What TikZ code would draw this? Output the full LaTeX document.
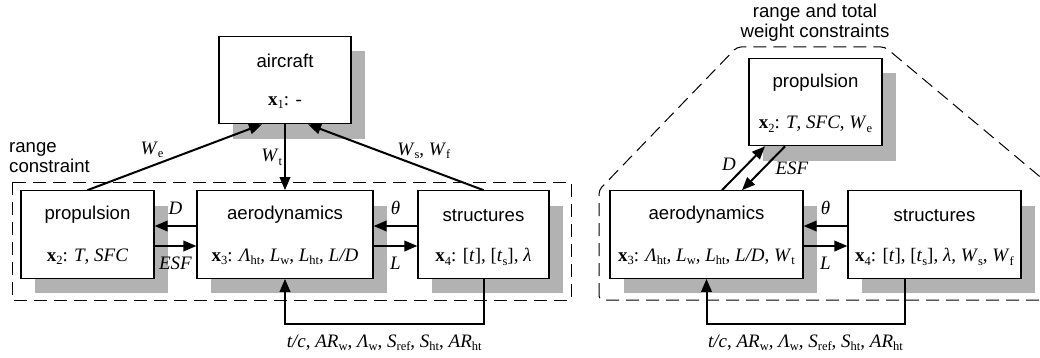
\documentclass[tikz,border=0pt]{standalone}
\usepackage{fontspec}
\setmainfont{Liberation Sans}
\newfontfamily\tms{Liberation Serif}
\usetikzlibrary{arrows.meta,shadows,calc,positioning}

\newcommand{\sub}[1]{\raisebox{-3.5pt}{\fontsize{12.5}{13}\selectfont\upshape #1}}
\newcommand{\xv}[1]{\textbf{x}\sub{#1}}
\newcommand{\vr}[2]{\textit{#1}\sub{#2}}
\newcommand{\module}[5]{\node[modbox, minimum width=#3] (#1) at (#2) {};
\node[modname] (#1-name) at ($(#1.north)+(0,25)$) {#4};
\node[modvars] (#1-vars) at ($(#1.south)+(0,-22)$) {#5};}

\tikzset{
  modbox/.style={draw, line width=1.2pt, fill=white, minimum height=87.5pt, inner sep=0pt,
    drop shadow={shadow xshift=14pt, shadow yshift=-15pt, fill=black!30, opacity=1}},
  modname/.style={inner sep=0pt, font=\fontsize{18.6}{21}\selectfont},
  modvars/.style={inner sep=0pt, font=\fontsize{19}{22}\selectfont\tms},
  lbl/.style={inner sep=2pt, font=\fontsize{19}{22}\selectfont\tms},
  note/.style={inner sep=0pt, font=\fontsize{18.6}{20.5}\selectfont},
  flow/.style={line width=2pt, -{Triangle[length=13pt,width=10.5pt]}},
  frame/.style={line width=1pt, dash pattern=on 13pt off 7pt}
}

\begin{document}
\begin{tikzpicture}[x=1pt, y=-1pt]
\useasboundingbox (0,0) rectangle (1040,358);
% range constraint only
\draw[frame] (12,182) rectangle (571,300);
\node[note, anchor=west, align=left] (rc) at (9,157.5) {range\\constraint};
\module{air}{285,80}{132}{aircraft}{\xv{1}: -}
\module{pL}{87.5,234.5}{133}{propulsion}{\xv{2}: \textit{T}, \textit{SFC}}
\module{aL}{285,234.5}{176}{aerodynamics}{\xv{3}: \vr{Λ}{ht}, \vr{L}{w}, \vr{L}{ht}, \textit{L/D}}
\module{sL}{483.5,234.5}{131}{structures}{\xv{4}: [\textit{t}], [\vr{t}{s}], \textit{λ}}
\draw[flow] (pL.north) -- ([xshift=-23pt]air.south) node[lbl, pos=.37, above=5pt] (we) {\vr{W}{e}};
\draw[flow] (air.south) -- (aL.north) node[lbl, midway, left] (wt) {\vr{W}{t}};
\draw[flow] (sL.north) -- ([xshift=23pt]air.south) node[lbl, pos=.34, above=6pt] (wsf) {\vr{W}{s}, \vr{W}{f}};
\draw[flow] ([yshift=8.5pt]aL.west) -- ([yshift=8.5pt]pL.east) node[lbl, midway, above=8pt] (dl) {\textit{D}};
\draw[flow] ([yshift=-11.5pt]pL.east) -- ([yshift=-11.5pt]aL.west) node[lbl, midway, below=8pt] (esfl) {\textit{ESF}};
\draw[flow] ([yshift=8.5pt]sL.west) -- ([yshift=8.5pt]aL.east) node[lbl, midway, above=8pt] (thl) {\textit{θ}};
\draw[flow] ([yshift=-11.5pt]aL.east) -- ([yshift=-11.5pt]sL.west) node[lbl, midway, below=8pt] (ll) {\textit{L}};
\draw[flow] (sL.south) -- ++(0,45) -| (aL.south) node[lbl, pos=.25, below=8pt] (fbl) {\textit{t/c}, \vr{AR}{w}, \vr{Λ}{w}, \vr{S}{ref}, \vr{S}{ht}, \vr{AR}{ht}};

\begin{scope}[xshift=520pt]
% range and total weight constraints
\begin{scope}
\clip (-520,0) rectangle (520,358);
\draw[frame, rounded corners=4pt] (79,300) -- (79,190) -- (217,47) -- (365,47) -- (537,191) -- (537,300) -- cycle;
\end{scope}
\node[note, align=center] (rtw) at (295,22.5) {range and total\\weight constraints};
\module{pR}{295.5,102}{133}{propulsion}{\xv{2}: \textit{T}, \textit{SFC}, \vr{W}{e}}
\module{aR}{186.5,234.5}{193}{aerodynamics}{\xv{3}: \vr{Λ}{ht}, \vr{L}{w}, \vr{L}{ht}, \textit{L/D}, \vr{W}{t}}
\module{sR}{414.5,234.5}{173}{structures}{\xv{4}: [\textit{t}], [\vr{t}{s}], \textit{λ}, \vr{W}{s}, \vr{W}{f}}
\draw[flow] ([xshift=15.5pt]aR.north) -- ([xshift=-50.5pt]pR.south) node[lbl, pos=.6, left=9pt] (dr) {\textit{D}};
\draw[flow] ([xshift=-30.5pt]pR.south) -- ([xshift=35.5pt]aR.north) node[lbl, midway, right=9pt] (esfr) {\textit{ESF}};
\draw[flow] ([yshift=8.5pt]sR.west) -- ([yshift=8.5pt]aR.east) node[lbl, midway, above=8pt] (thr) {\textit{θ}};
\draw[flow] ([yshift=-11.5pt]aR.east) -- ([yshift=-11.5pt]sR.west) node[lbl, midway, below=8pt] (lr) {\textit{L}};
\draw[flow] ([xshift=-30pt]sR.south) -- ++(0,45) -| (aR.south) node[lbl, pos=.25, below=8pt] (fbr) {\textit{t/c}, \vr{AR}{w}, \vr{Λ}{w}, \vr{S}{ref}, \vr{S}{ht}, \vr{AR}{ht}};
\end{scope}
\end{tikzpicture}
\end{document}
